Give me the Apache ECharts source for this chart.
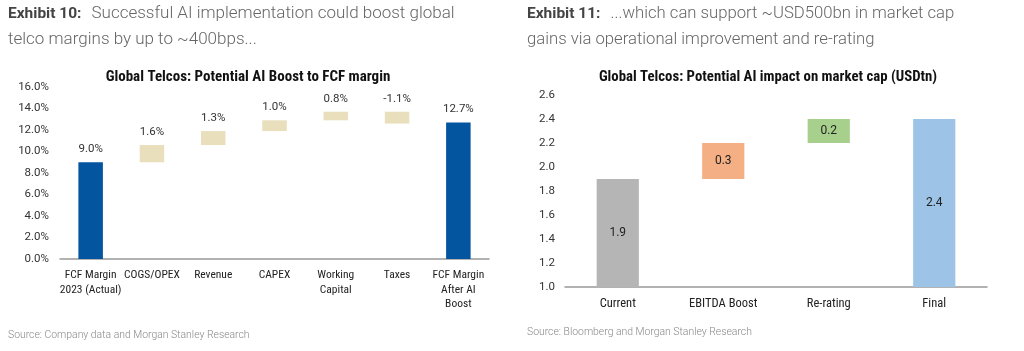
<!DOCTYPE html>
<html>
<head>
<meta charset="utf-8">
<script src="https://cdn.jsdelivr.net/npm/echarts@6/dist/echarts.min.js"></script>
<style>
html, body { margin: 0; padding: 0; background: #fff; }
#main { width: 1024px; height: 351px; }
</style>
</head>
<body>
<div id="main"></div>
<script>
// Exhibit 10 data
var fcfCategories = ['FCF Margin\n2023 (Actual)', 'COGS/OPEX', 'Revenue', 'CAPEX', 'Working\nCapital', 'Taxes', 'FCF Margin\nAfter AI\nBoost'];
var fcfSteps = [9.0, 1.6, 1.3, 1.0, 0.8, -1.1, 12.7];
var fcfTicks = [0, 2, 4, 6, 8, 10, 12, 14, 16];

// Exhibit 11 data
var capCategories = ['Current', 'EBITDA Boost', 'Re-rating', 'Final'];
var capSteps = [1.9, 0.3, 0.2, 2.4];
var capTicks = [1.0, 1.2, 1.4, 1.6, 1.8, 2.0, 2.2, 2.4, 2.6];

var narrow = "'Roboto Condensed', 'Roboto', sans-serif";
var plain = "'Roboto', 'Liberation Sans', sans-serif";

// turn the steps into transparent bases + visible heights
function waterfall(steps) {
	var base = [], height = [], running = 0;
	for (var i = 0; i < steps.length; i++) {
		if (i == 0 || i == steps.length - 1) {
			base.push(0);
			height.push(steps[i]);
			running = steps[i];
		} else {
			var end = running + steps[i];
			base.push(+Math.min(running, end).toFixed(2));
			height.push(+Math.abs(steps[i]).toFixed(2));
			running = end;
		}
	}
	return { base: base, height: height };
}

var fcf = waterfall(fcfSteps);
var cap = waterfall(capSteps);

var fcfColors = fcfSteps.map(function(v, i) {
	return (i == 0 || i == fcfSteps.length - 1) ? '#0455a0' : '#e9dfbc';
});
var capColors = ['#b5b5b5', '#f4b084', '#a8d08d', '#9dc3e6'];

function header(size) {
	return {
		rich: {
			b: { fontFamily: plain, fontWeight: 'bold', fontSize: 15.5, color: '#444', lineHeight: 26 },
			n: { fontFamily: plain, fontWeight: 300, fontSize: size, color: '#666', lineHeight: 26 }
		}
	};
}

var myChart = echarts.init(document.getElementById('main'));
var option = {
	animation: false,
	backgroundColor: '#fff',
	title: [ {
		left: 8, top: 1, padding: 0,
		text: '{b|Exhibit 10:}  {n|Successful AI implementation could boost global}\n{n|telco margins by up to ~400bps...}',
		textStyle: header(17)
	}, {
		left: 527, top: 1, padding: 0,
		text: '{b|Exhibit 11:}  {n|...which can support ~USD500bn in market cap}\n{n|gains via operational improvement and re-rating}',
		textStyle: header(16.7)
	}, {
		left: 248, top: 70, padding: 0, textAlign: 'center',
		text: 'Global Telcos: Potential AI Boost to FCF margin',
		textStyle: { fontFamily: narrow, fontWeight: 'bold', fontSize: 15, color: '#111' }
	}, {
		left: 768, top: 70, padding: 0, textAlign: 'center',
		text: 'Global Telcos: Potential AI impact on market cap (USDtn)',
		textStyle: { fontFamily: narrow, fontWeight: 'bold', fontSize: 14.8, color: '#111' }
	}, {
		left: 8, top: 330, padding: 0,
		text: 'Source: Company data and Morgan Stanley Research',
		textStyle: { fontFamily: plain, fontWeight: 300, fontSize: 10.4, color: '#888' }
	}, {
		left: 527, top: 327, padding: 0,
		text: 'Source: Bloomberg and Morgan Stanley Research',
		textStyle: { fontFamily: plain, fontWeight: 300, fontSize: 10.4, color: '#888' }
	} ],
	grid: [ {
		left: 60, right: 535, top: 87, bottom: 92
	}, {
		left: 565, right: 37, top: 95, bottom: 64
	} ],
	xAxis: [ {
		type: 'category', gridIndex: 0,
		data: fcfCategories,
		axisLine: { lineStyle: { color: '#999', width: 1.5 } },
		axisTick: { show: false },
		axisLabel: { interval: 0, margin: 9, fontFamily: narrow, fontSize: 11.5, color: '#222', lineHeight: 14.5 }
	}, {
		type: 'category', gridIndex: 1,
		data: capCategories,
		axisLine: { lineStyle: { color: '#999', width: 1.5 } },
		axisTick: { show: false },
		axisLabel: { interval: 0, margin: 10, fontFamily: narrow, fontSize: 12.5, color: '#222' }
	} ],
	yAxis: [ {
		type: 'value', gridIndex: 0,
		min: fcfTicks[0], max: fcfTicks[fcfTicks.length - 1], interval: 2,
		axisLine: { show: false },
		axisTick: { show: false },
		splitLine: { show: false },
		axisLabel: { margin: 11, fontFamily: plain, fontSize: 11.5, color: '#333',
			formatter: function(v) { return v.toFixed(1) + '%'; } }
	}, {
		type: 'value', gridIndex: 1,
		min: capTicks[0], max: capTicks[capTicks.length - 1], interval: 0.2,
		axisLine: { show: false },
		axisTick: { show: false },
		splitLine: { show: false },
		axisLabel: { margin: 10, fontFamily: plain, fontSize: 11.5, color: '#333',
			formatter: function(v) { return v.toFixed(1); } }
	} ],
	series: [ {
		name: 'fcfBase', type: 'bar', stack: 'fcf',
		xAxisIndex: 0, yAxisIndex: 0,
		barWidth: '40%',
		itemStyle: { color: 'transparent' },
		data: fcf.base
	}, {
		name: 'fcf', type: 'bar', stack: 'fcf',
		xAxisIndex: 0, yAxisIndex: 0,
		barWidth: '40%',
		data: fcf.height.map(function(h, i) {
			return { value: h, itemStyle: { color: fcfColors[i] } };
		}),
		label: {
			show: true, position: 'top', distance: 7,
			fontFamily: plain, fontSize: 11.5, color: '#333',
			formatter: function(p) { return fcfSteps[p.dataIndex].toFixed(1) + '%'; }
		}
	}, {
		name: 'capBase', type: 'bar', stack: 'cap',
		xAxisIndex: 1, yAxisIndex: 1,
		barWidth: '40%',
		itemStyle: { color: 'transparent' },
		data: cap.base
	}, {
		name: 'cap', type: 'bar', stack: 'cap',
		xAxisIndex: 1, yAxisIndex: 1,
		barWidth: '40%',
		data: cap.height.map(function(h, i) {
			return { value: h, itemStyle: { color: capColors[i] } };
		}),
		label: {
			show: true, position: 'inside',
			fontFamily: plain, fontSize: 12, color: '#222',
			formatter: function(p) { return capSteps[p.dataIndex].toFixed(1); }
		}
	} ]
};
myChart.setOption(option);
</script>
</body>
</html>
